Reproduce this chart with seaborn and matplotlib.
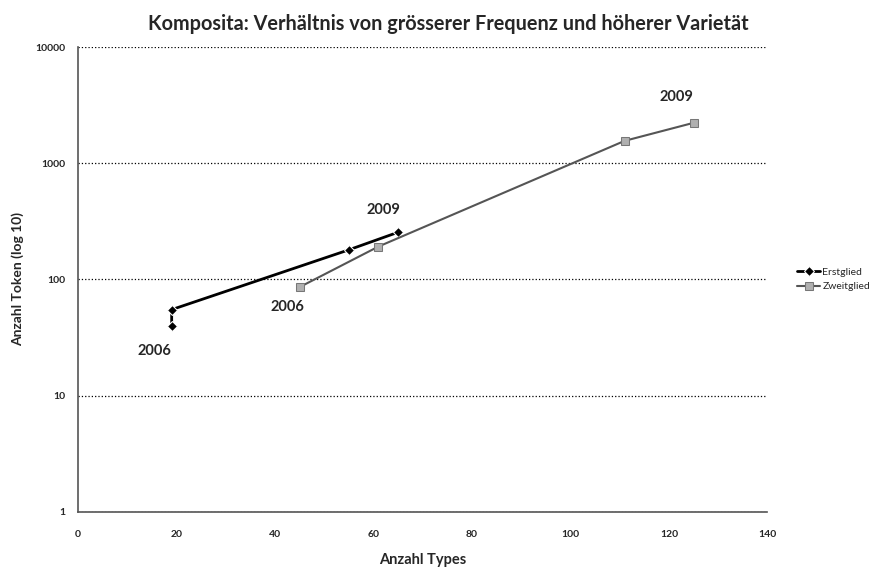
import matplotlib
matplotlib.use("Agg")
import matplotlib.pyplot as plt
import seaborn as sns
import pandas as pd

# values
erst_types = [19, 19, 55, 65]
erst_token = [40, 55, 180, 255]
zweit_types = [45, 61, 111, 125]
zweit_token = [86, 192, 1560, 2230]

labels = [("2006", 15.5, 24), ("2006", 42.5, 58), ("2009", 62, 395), ("2009", 121.5, 3700)]

df = pd.concat([
    pd.DataFrame({"Types": erst_types, "Token": erst_token, "Serie": "Erstglied"}),
    pd.DataFrame({"Types": zweit_types, "Token": zweit_token, "Serie": "Zweitglied"}),
])

sns.set_theme(style="white")
plt.rcParams["font.family"] = ["Lato", "DejaVu Sans"]

fig = plt.figure(figsize=(8.78, 5.68), dpi=100)
ax = fig.add_axes([0.089, 0.099, 0.785, 0.818])

sns.lineplot(data=df[df.Serie == "Erstglied"], x="Types", y="Token", sort=False,
             estimator=None, color="black", lw=2, marker="D", markersize=5,
             label="Erstglied", ax=ax)
sns.lineplot(data=df[df.Serie == "Zweitglied"], x="Types", y="Token", sort=False,
             estimator=None, color="#555555", lw=1.5, marker="s", markersize=6,
             markerfacecolor="#b0b0b0", markeredgecolor="#777777",
             label="Zweitglied", ax=ax)

ax.set_yscale("log")
ax.set_ylim(1, 10000)
ax.set_xlim(0, 140)
ax.set_xticks(range(0, 141, 20))
ax.set_yticks([1, 10, 100, 1000, 10000])
ax.set_yticklabels(["1", "10", "100", "1000", "10000"])
ax.minorticks_off()
ax.yaxis.grid(True, which="major", color="black", linestyle=":", lw=0.9)
ax.tick_params(axis="both", labelsize=7.5, length=0)
ax.tick_params(axis="x", pad=13)
ax.tick_params(axis="y", pad=9)
for t in ax.get_xticklabels() + ax.get_yticklabels():
    t.set_fontweight("bold")

for s in ["top", "right"]:
    ax.spines[s].set_visible(False)
for s in ["left", "bottom"]:
    ax.spines[s].set_color("#555555")
    ax.spines[s].set_linewidth(1.2)

for txt, x, y in labels:
    ax.text(x, y, txt, fontsize=10.5, fontweight="bold", ha="center", va="center")

ax.set_xlabel("Anzahl Types", fontsize=10.5, fontweight="bold", labelpad=10)
ax.set_ylabel("Anzahl Token (log 10)", fontsize=10, fontweight="bold", labelpad=8)
fig.suptitle("Komposita: Verhältnis von grösserer Frequenz und höherer Varietät",
             fontsize=14.3, fontweight="bold", x=0.511, y=0.975)

ax.legend(loc="center left", bbox_to_anchor=(1.03, 0.5), frameon=False,
          fontsize=7.5, handlelength=2.2, handletextpad=0.2)

fig.savefig("out.png", dpi=100)
